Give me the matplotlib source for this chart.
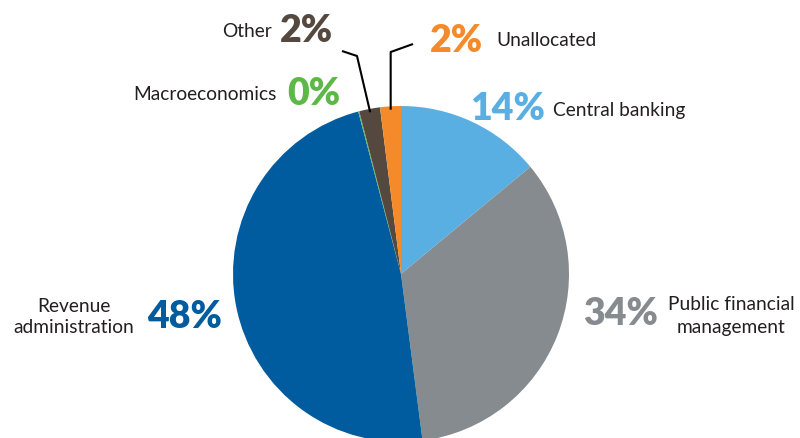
import matplotlib.pyplot as plt
import numpy as np

# Data (clockwise from 12 o'clock)
categories = ['Central banking', 'Public financial management', 'Revenue administration',
              'Macroeconomics', 'Other', 'Unallocated']
shares = [14, 34, 48, 0.1, 2, 2]
pct_labels = ['14%', '34%', '48%', '0%', '2%', '2%']
colors = ['#5aafe2', '#868b8f', '#005c9e', '#5cb947', '#55483f', '#f58a2a']

plt.rcParams['font.family'] = ['Lato', 'DejaVu Sans']

fig = plt.figure(figsize=(8, 4.39), dpi=100, facecolor='white')
ax = fig.add_axes([0, 0, 1, 1])

cx, cy, r = 401, 164, 168
wedges, _ = ax.pie(shares, colors=colors, startangle=90, counterclock=False,
                   center=(cx, cy), radius=r, frame=True,
                   wedgeprops=dict(linewidth=0))

ax.set_xlim(0, 800)
ax.set_ylim(0, 439)
ax.set_aspect('equal')
ax.axis('off')

txt = '#231f20'
pct_kw = dict(fontsize=27, fontweight='heavy', va='baseline')
lab_kw = dict(fontsize=13.8, color=txt, va='baseline')

# Central banking
ax.text(470, 319, pct_labels[0], color=colors[0], ha='left', **pct_kw)
ax.text(553, 323, categories[0], ha='left', **lab_kw)

# Public financial management
ax.text(583, 114, pct_labels[1], color=colors[1], ha='left', **pct_kw)
ax.text(731, 129, 'Public financial', ha='center', **lab_kw)
ax.text(731, 106, 'management', ha='center', **lab_kw)

# Revenue administration
ax.text(222, 111, pct_labels[2], color=colors[2], ha='right', **pct_kw)
ax.text(74, 127, 'Revenue', ha='center', **lab_kw)
ax.text(74, 106, 'administration', ha='center', **lab_kw)

# Macroeconomics
ax.text(287, 334, pct_labels[3], color=colors[3], ha='left', **pct_kw)
ax.text(277, 339, categories[3], ha='right', **lab_kw)

# Other
ax.text(280, 397, pct_labels[4], color=colors[4], ha='left', **pct_kw)
ax.text(272, 402, categories[4], ha='right', **lab_kw)

# Unallocated
ax.text(430, 387, pct_labels[5], color=colors[5], ha='left', **pct_kw)
ax.text(496, 393, categories[5], ha='left', **lab_kw)

# Leader lines into the small wedges
def wedge_point(w, frac=0.98):
    ang = np.deg2rad((w.theta1 + w.theta2) / 2)
    return cx + r * frac * np.cos(ang), cy + r * frac * np.sin(ang)

ox, oy = wedge_point(wedges[4])
ax.plot([342, 357, ox], [387, 382, oy], color='black', lw=1.5, solid_capstyle='butt')
ux, uy = wedge_point(wedges[5])
ax.plot([413, ux, ux], [394, 386, uy], color='black', lw=1.5, solid_capstyle='butt')

plt.savefig('out.png', dpi=100, facecolor='white')
